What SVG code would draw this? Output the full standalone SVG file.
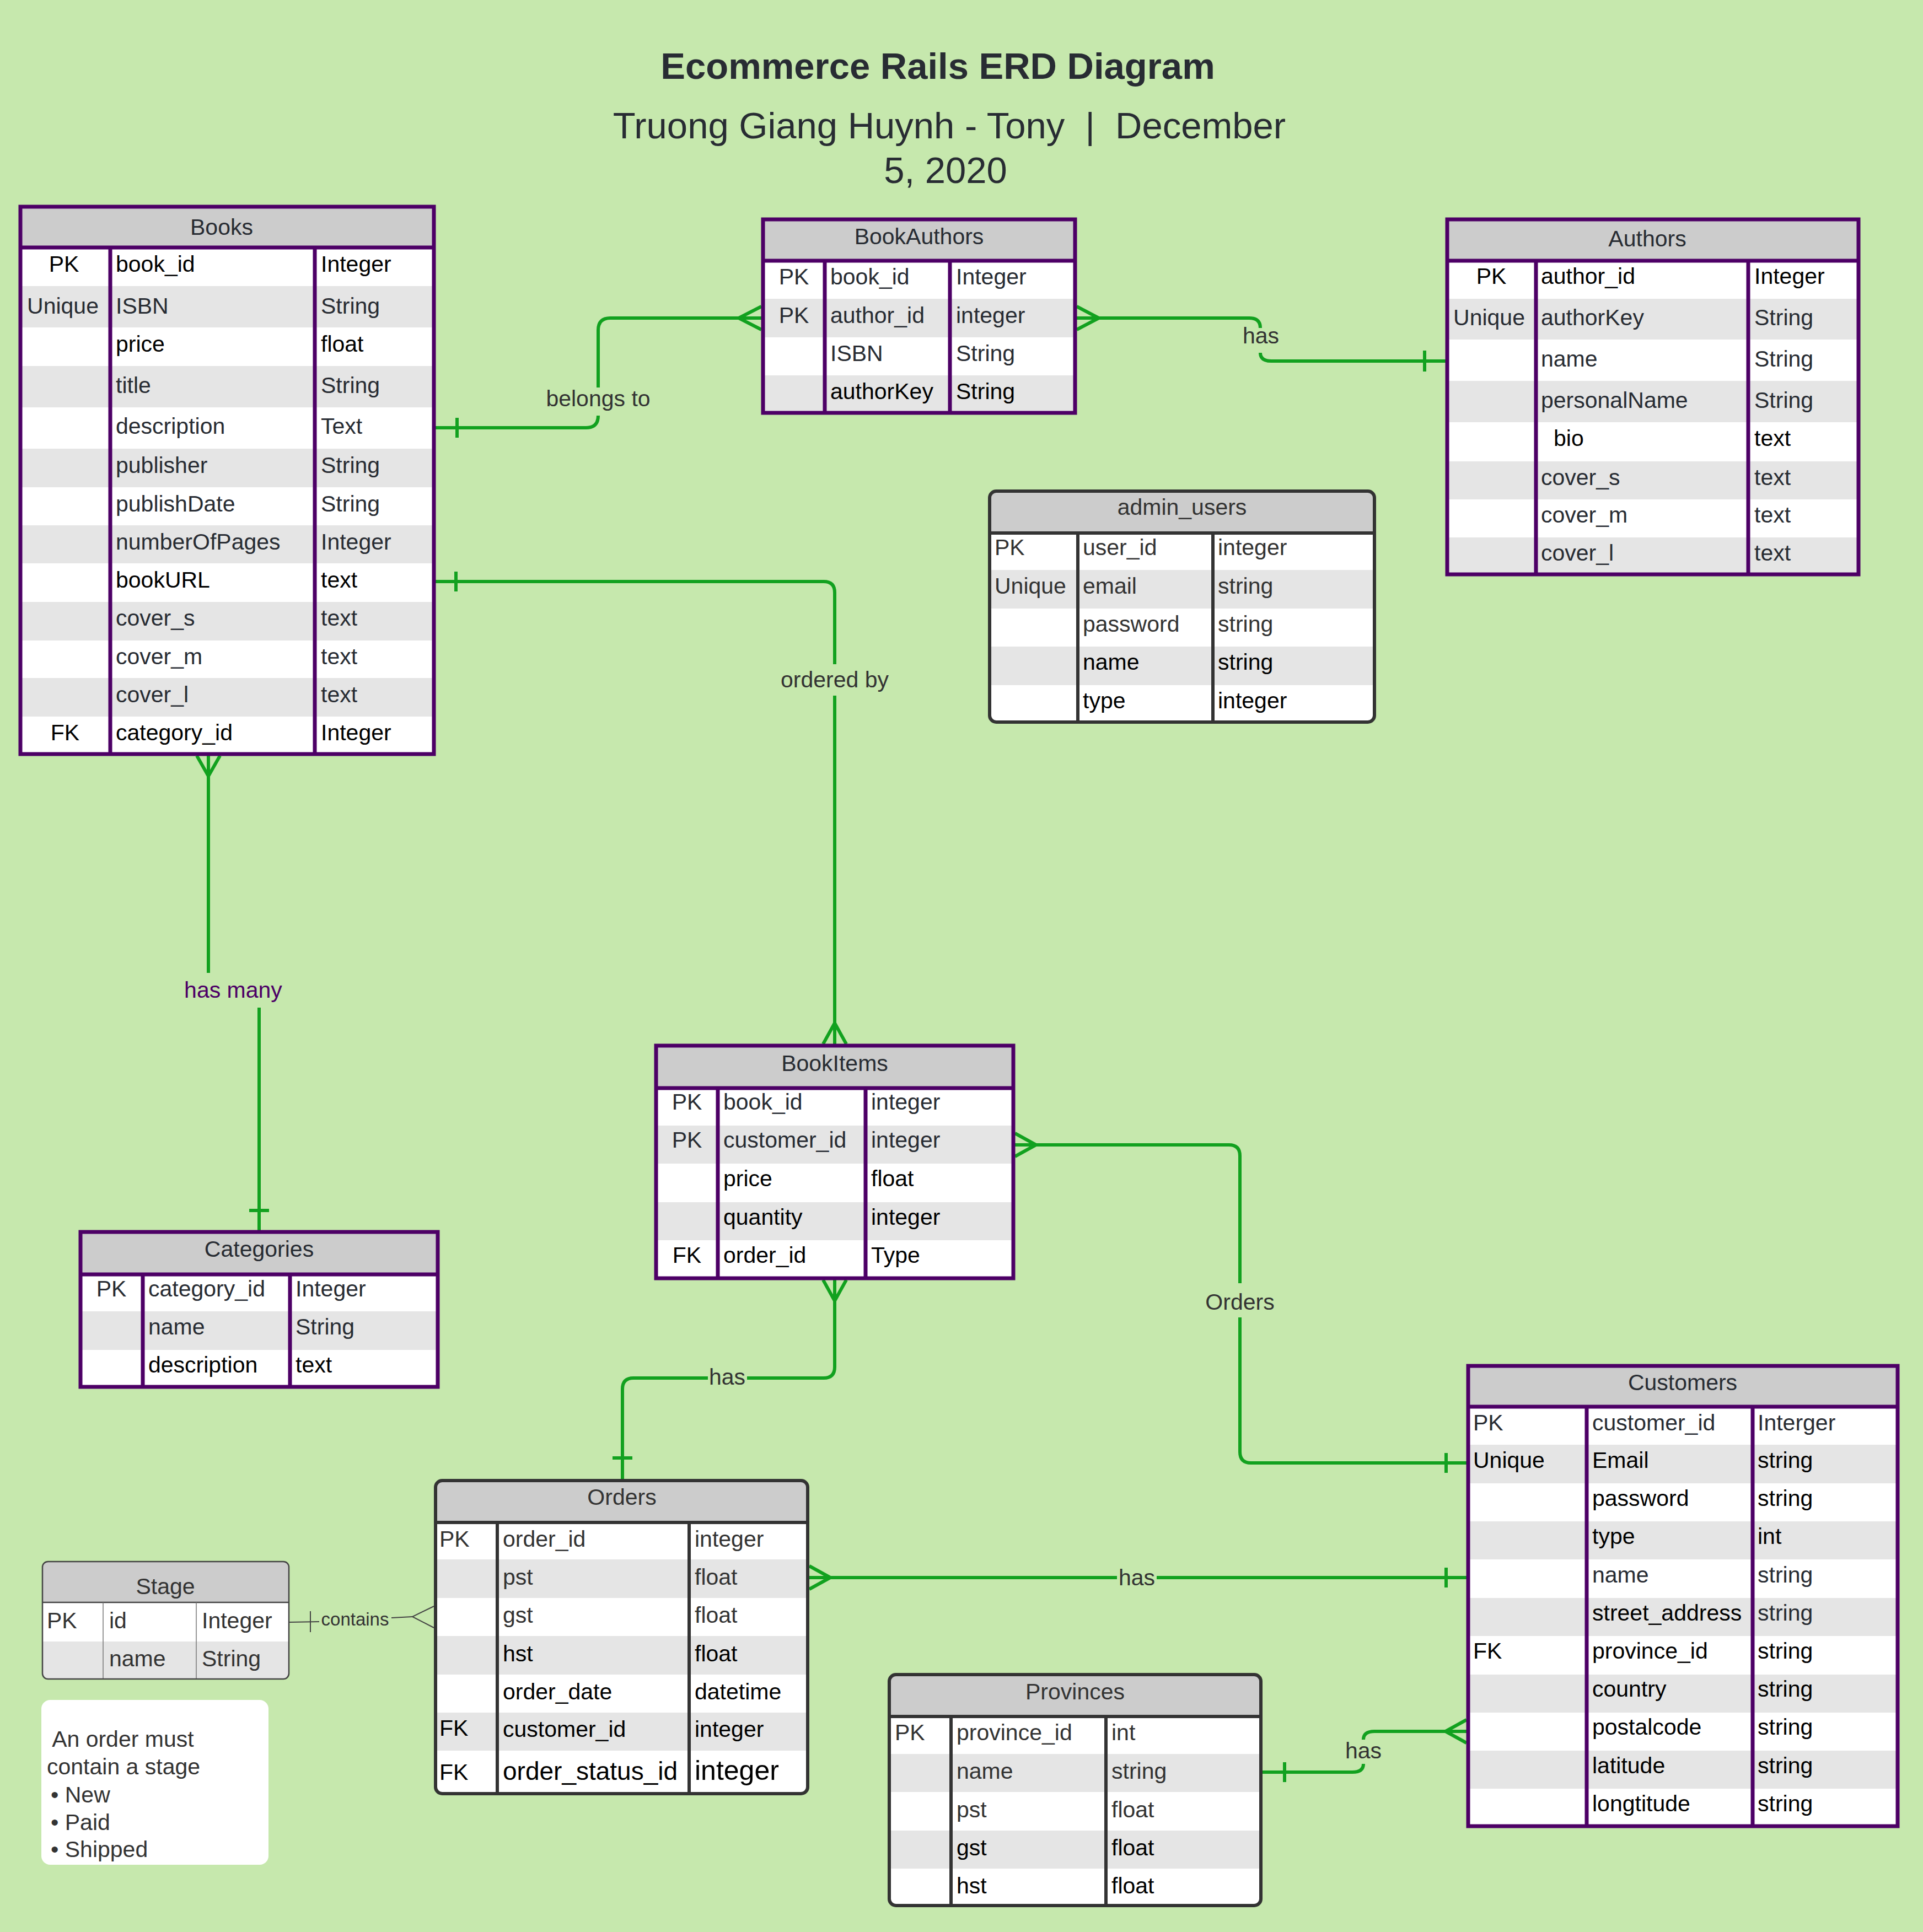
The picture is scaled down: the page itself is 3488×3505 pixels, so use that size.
<svg xmlns="http://www.w3.org/2000/svg" width="3488" height="3505" viewBox="0 0 3488 3505">
<style>
.t{font-family:"Liberation Sans",Arial,Helvetica,sans-serif;font-size:41px;fill:#282c33}
.d{fill:#333}
.k{fill:#000}
.m{text-anchor:middle}
.pb{fill:none;stroke:#4d0066;stroke-width:7}
.db{fill:none;stroke:#333;stroke-width:6}
.hf{fill:#ccc}
.wf{fill:#fff}
.gf{fill:#e5e5e5}
.cn{fill:none;stroke:#12a11f;stroke-width:6}
.lb{font-family:"Liberation Sans",Arial,Helvetica,sans-serif;font-size:41px;fill:#333;text-anchor:middle}
</style>
<defs>
<clipPath id="cpAdmin"><rect x="1795" y="891" width="698" height="419" rx="12"/></clipPath>
<clipPath id="cpOrders"><rect x="790" y="2686" width="675" height="568" rx="12"/></clipPath>
<clipPath id="cpProv"><rect x="1613" y="3038" width="674" height="419" rx="12"/></clipPath>
<clipPath id="cpStage"><rect x="77" y="2833" width="447" height="213" rx="10"/></clipPath>
</defs>
<rect width="3488" height="3505" fill="#c6e8ad"/>

<g id="title">
<text x="1701" y="143" class="t m" style="font-size:67px;font-weight:bold">Ecommerce Rails ERD Diagram</text>
<text x="1722" y="251" class="t m" style="font-size:67px" xml:space="preserve">Truong Giang Huynh - Tony  |  December</text>
<text x="1715" y="332" class="t m" style="font-size:67px">5, 2020</text>
</g>

<g id="connectors">
<!-- belongs to -->
<path class="cn" d="M790,776 H1063 Q1085,776 1085,754"/>
<path class="cn" d="M1085,703 V599 Q1085,577 1107,577 H1381"/>
<path class="cn" d="M829,758 V794"/>
<path class="cn" d="M1340,577 L1381,556 M1340,577 L1381,598"/>
<text class="lb" x="1085" y="737">belongs to</text>
<!-- has BookAuthors-Authors -->
<path class="cn" d="M1953,577 H2266 Q2286,577 2286,595"/>
<path class="cn" d="M2286,640 Q2286,655 2306,655 H2622"/>
<path class="cn" d="M1993,577 L1953,556 M1993,577 L1953,598"/>
<path class="cn" d="M2584,636 V674"/>
<text class="lb" x="2287" y="623">has</text>
<!-- ordered by -->
<path class="cn" d="M790,1055 H1494 Q1514,1055 1514,1075 V1205"/>
<path class="cn" d="M1514,1262 V1894"/>
<path class="cn" d="M827,1037 V1073"/>
<path class="cn" d="M1514,1856 L1493,1894 M1514,1856 L1535,1894"/>
<text class="lb" x="1514" y="1247">ordered by</text>
<!-- has many -->
<path class="cn" d="M378,1371 V1765"/>
<path class="cn" d="M470,1828 V2232"/>
<path class="cn" d="M378,1408 L357,1371 M378,1408 L399,1371"/>
<path class="cn" d="M452,2196 H488"/>
<text class="lb" x="423" y="1810" style="fill:#4d0066">has many</text>
<!-- has BookItems-Orders -->
<path class="cn" d="M1514,2322 V2480 Q1514,2500 1494,2500 H1355"/>
<path class="cn" d="M1284,2500 H1149 Q1129,2500 1129,2520 V2683"/>
<path class="cn" d="M1514,2360 L1493,2322 M1514,2360 L1535,2322"/>
<path class="cn" d="M1111,2645 H1147"/>
<text class="lb" x="1319" y="2512">has</text>
<!-- Orders BookItems-Customers -->
<path class="cn" d="M1841,2077 H2229 Q2249,2077 2249,2097 V2328"/>
<path class="cn" d="M2249,2390 V2634 Q2249,2654 2269,2654 H2660"/>
<path class="cn" d="M1879,2077 L1841,2056 M1879,2077 L1841,2098"/>
<path class="cn" d="M2623,2636 V2672"/>
<text class="lb" x="2249" y="2376">Orders</text>
<!-- has Orders-Customers -->
<path class="cn" d="M1468,2862 H2026"/>
<path class="cn" d="M2098,2862 H2660"/>
<path class="cn" d="M1506,2862 L1468,2841 M1506,2862 L1468,2883"/>
<path class="cn" d="M2623,2844 V2880"/>
<text class="lb" x="2062" y="2876">has</text>
<!-- has Provinces-Customers -->
<path class="cn" d="M2290,3215 H2453 Q2473,3215 2473,3200"/>
<path class="cn" d="M2473,3156 Q2473,3141 2493,3141 H2660"/>
<path class="cn" d="M2330,3197 V3233"/>
<path class="cn" d="M2622,3141 L2660,3120 M2622,3141 L2660,3162"/>
<text class="lb" x="2473" y="3190">has</text>
<!-- contains -->
<path d="M524,2943 L579,2942 M710,2935 L748,2933" fill="none" stroke="#444" stroke-width="2"/>
<path d="M563,2923 V2961" fill="none" stroke="#444" stroke-width="2"/>
<path d="M787,2914 L748,2933 L787,2953" fill="none" stroke="#444" stroke-width="2"/>
<text x="644" y="2949" class="t m d" style="font-size:33px">contains</text>
</g>

<g id="books">
<rect x="37" y="375" width="750" height="993" class="wf"/>
<rect x="37" y="375" width="750" height="74" class="hf"/>
<rect x="37" y="519" width="750" height="75" class="gf"/>
<rect x="37" y="664" width="750" height="75" class="gf"/>
<rect x="37" y="814" width="750" height="70" class="gf"/>
<rect x="37" y="953" width="750" height="69" class="gf"/>
<rect x="37" y="1092" width="750" height="70" class="gf"/>
<rect x="37" y="1230" width="750" height="70" class="gf"/>
<path class="pb" d="M37,449 H787 M200,449 V1368 M571,449 V1368"/>
<rect x="37" y="375" width="750" height="993" class="pb"/>
<text x="402" y="426" class="t m">Books</text>
<text x="116" y="493" class="t m k">PK</text><text x="210" y="493" class="t k">book_id</text><text x="582" y="493" class="t k">Integer</text>
<text x="114" y="569" class="t m">Unique</text><text x="210" y="569" class="t">ISBN</text><text x="582" y="569" class="t">String</text>
<text x="210" y="638" class="t k">price</text><text x="582" y="638" class="t k">float</text>
<text x="210" y="713" class="t">title</text><text x="582" y="713" class="t">String</text>
<text x="210" y="787" class="t">description</text><text x="582" y="787" class="t">Text</text>
<text x="210" y="858" class="t">publisher</text><text x="582" y="858" class="t">String</text>
<text x="210" y="928" class="t">publishDate</text><text x="582" y="928" class="t">String</text>
<text x="210" y="997" class="t">numberOfPages</text><text x="582" y="997" class="t">Integer</text>
<text x="210" y="1066" class="t k">bookURL</text><text x="582" y="1066" class="t k">text</text>
<text x="210" y="1135" class="t">cover_s</text><text x="582" y="1135" class="t">text</text>
<text x="210" y="1205" class="t">cover_m</text><text x="582" y="1205" class="t">text</text>
<text x="210" y="1274" class="t">cover_l</text><text x="582" y="1274" class="t">text</text>
<text x="118" y="1343" class="t m k">FK</text><text x="210" y="1343" class="t k">category_id</text><text x="582" y="1343" class="t k">Integer</text>
</g>

<g id="bookauthors">
<rect x="1384" y="398" width="566" height="351" class="wf"/>
<rect x="1384" y="398" width="566" height="75" class="hf"/>
<rect x="1384" y="542" width="566" height="70" class="gf"/>
<rect x="1384" y="681" width="566" height="68" class="gf"/>
<path class="pb" d="M1384,473 H1950 M1496,473 V749 M1723,473 V749"/>
<rect x="1384" y="398" width="566" height="351" class="pb"/>
<text x="1667" y="443" class="t m">BookAuthors</text>
<text x="1440" y="516" class="t m">PK</text><text x="1506" y="516" class="t">book_id</text><text x="1734" y="516" class="t">Integer</text>
<text x="1440" y="586" class="t m">PK</text><text x="1506" y="586" class="t">author_id</text><text x="1734" y="586" class="t">integer</text>
<text x="1506" y="655" class="t">ISBN</text><text x="1734" y="655" class="t">String</text>
<text x="1506" y="724" class="t k">authorKey</text><text x="1734" y="724" class="t k">String</text>
</g>

<g id="authors">
<rect x="2625" y="398" width="746" height="644" class="wf"/>
<rect x="2625" y="398" width="746" height="75" class="hf"/>
<rect x="2625" y="542" width="746" height="74" class="gf"/>
<rect x="2625" y="691" width="746" height="75" class="gf"/>
<rect x="2625" y="837" width="746" height="69" class="gf"/>
<rect x="2625" y="975" width="746" height="67" class="gf"/>
<path class="pb" d="M2625,473 H3371 M2786,473 V1042 M3171,473 V1042"/>
<rect x="2625" y="398" width="746" height="644" class="pb"/>
<text x="2988" y="447" class="t m">Authors</text>
<text x="2705" y="515" class="t m k">PK</text><text x="2795" y="515" class="t k">author_id</text><text x="3182" y="515" class="t k">Integer</text>
<text x="2701" y="590" class="t m">Unique</text><text x="2795" y="590" class="t">authorKey</text><text x="3182" y="590" class="t">String</text>
<text x="2795" y="665" class="t">name</text><text x="3182" y="665" class="t">String</text>
<text x="2795" y="740" class="t">personalName</text><text x="3182" y="740" class="t">String</text>
<text x="2818" y="809" class="t k">bio</text><text x="3182" y="809" class="t k">text</text>
<text x="2795" y="880" class="t">cover_s</text><text x="3182" y="880" class="t">text</text>
<text x="2795" y="948" class="t">cover_m</text><text x="3182" y="948" class="t">text</text>
<text x="2795" y="1017" class="t">cover_l</text><text x="3182" y="1017" class="t">text</text>
</g>

<g id="admin_users">
<g clip-path="url(#cpAdmin)">
<rect x="1795" y="891" width="698" height="419" class="wf"/>
<rect x="1795" y="891" width="698" height="76" class="hf"/>
<rect x="1795" y="1034" width="698" height="70" class="gf"/>
<rect x="1795" y="1173" width="698" height="70" class="gf"/>
</g>
<path class="db" d="M1795,967 H2493 M1955,967 V1310 M2200,967 V1310"/>
<rect x="1795" y="891" width="698" height="419" rx="12" class="db"/>
<text x="2144" y="934" class="t m d">admin_users</text>
<text x="1804" y="1007" class="t d">PK</text><text x="1964" y="1007" class="t d">user_id</text><text x="2209" y="1007" class="t d">integer</text>
<text x="1804" y="1077" class="t d">Unique</text><text x="1964" y="1077" class="t d">email</text><text x="2209" y="1077" class="t d">string</text>
<text x="1964" y="1146" class="t d">password</text><text x="2209" y="1146" class="t d">string</text>
<text x="1964" y="1215" class="t k">name</text><text x="2209" y="1215" class="t k">string</text>
<text x="1964" y="1285" class="t k">type</text><text x="2209" y="1285" class="t k">integer</text>
</g>

<g id="bookitems">
<rect x="1190" y="1897" width="648" height="422" class="wf"/>
<rect x="1190" y="1897" width="648" height="77" class="hf"/>
<rect x="1190" y="2042" width="648" height="69" class="gf"/>
<rect x="1190" y="2181" width="648" height="69" class="gf"/>
<path class="pb" d="M1190,1974 H1838 M1302,1974 V2319 M1570,1974 V2319"/>
<rect x="1190" y="1897" width="648" height="422" class="pb"/>
<text x="1514" y="1943" class="t m">BookItems</text>
<text x="1246" y="2013" class="t m">PK</text><text x="1312" y="2013" class="t">book_id</text><text x="1580" y="2013" class="t">integer</text>
<text x="1246" y="2082" class="t m">PK</text><text x="1312" y="2082" class="t">customer_id</text><text x="1580" y="2082" class="t">integer</text>
<text x="1312" y="2152" class="t k">price</text><text x="1580" y="2152" class="t k">float</text>
<text x="1312" y="2222" class="t k">quantity</text><text x="1580" y="2222" class="t k">integer</text>
<text x="1246" y="2291" class="t m k">FK</text><text x="1312" y="2291" class="t k">order_id</text><text x="1580" y="2291" class="t k">Type</text>
</g>

<g id="categories">
<rect x="146" y="2235" width="648" height="281" class="wf"/>
<rect x="146" y="2235" width="648" height="77" class="hf"/>
<rect x="146" y="2379" width="648" height="70" class="gf"/>
<path class="pb" d="M146,2312 H794 M259,2312 V2516 M526,2312 V2516"/>
<rect x="146" y="2235" width="648" height="281" class="pb"/>
<text x="470" y="2280" class="t m">Categories</text>
<text x="202" y="2352" class="t m">PK</text><text x="269" y="2352" class="t">category_id</text><text x="536" y="2352" class="t">Integer</text>
<text x="269" y="2421" class="t">name</text><text x="536" y="2421" class="t">String</text>
<text x="269" y="2490" class="t k">description</text><text x="536" y="2490" class="t k">text</text>
</g>

<g id="customers">
<rect x="2663" y="2478" width="779" height="835" class="wf"/>
<rect x="2663" y="2478" width="779" height="74" class="hf"/>
<rect x="2663" y="2621" width="779" height="70" class="gf"/>
<rect x="2663" y="2760" width="779" height="69" class="gf"/>
<rect x="2663" y="2899" width="779" height="69" class="gf"/>
<rect x="2663" y="3038" width="779" height="69" class="gf"/>
<rect x="2663" y="3176" width="779" height="69" class="gf"/>
<path class="pb" d="M2663,2552 H3442 M2878,2552 V3313 M3179,2552 V3313"/>
<rect x="2663" y="2478" width="779" height="835" class="pb"/>
<text x="3052" y="2522" class="t m">Customers</text>
<text x="2672" y="2595" class="t">PK</text><text x="2888" y="2595" class="t">customer_id</text><text x="3188" y="2595" class="t">Interger</text>
<text x="2672" y="2663" class="t k">Unique</text><text x="2888" y="2663" class="t k">Email</text><text x="3188" y="2663" class="t k">string</text>
<text x="2888" y="2732" class="t k">password</text><text x="3188" y="2732" class="t k">string</text>
<text x="2888" y="2801" class="t k">type</text><text x="3188" y="2801" class="t k">int</text>
<text x="2888" y="2871" class="t">name</text><text x="3188" y="2871" class="t">string</text>
<text x="2888" y="2940" class="t k">street_address</text><text x="3188" y="2940" class="t">string</text>
<text x="2672" y="3009" class="t k">FK</text><text x="2888" y="3009" class="t k">province_id</text><text x="3188" y="3009" class="t k">string</text>
<text x="2888" y="3078" class="t k">country</text><text x="3188" y="3078" class="t k">string</text>
<text x="2888" y="3147" class="t k">postalcode</text><text x="3188" y="3147" class="t k">string</text>
<text x="2888" y="3217" class="t k">latitude</text><text x="3188" y="3217" class="t k">string</text>
<text x="2888" y="3286" class="t k">longtitude</text><text x="3188" y="3286" class="t k">string</text>
</g>

<g id="orders">
<g clip-path="url(#cpOrders)">
<rect x="790" y="2686" width="675" height="568" class="wf"/>
<rect x="790" y="2686" width="675" height="76" class="hf"/>
<rect x="790" y="2829" width="675" height="70" class="gf"/>
<rect x="790" y="2968" width="675" height="70" class="gf"/>
<rect x="790" y="3107" width="675" height="69" class="gf"/>
</g>
<path class="db" d="M790,2762 H1465 M902,2762 V3254 M1250,2762 V3254"/>
<rect x="790" y="2686" width="675" height="568" rx="12" class="db"/>
<text x="1128" y="2730" class="t m d">Orders</text>
<text x="797" y="2806" class="t d">PK</text><text x="912" y="2806" class="t d">order_id</text><text x="1260" y="2806" class="t d">integer</text>
<text x="912" y="2875" class="t d">pst</text><text x="1260" y="2875" class="t d">float</text>
<text x="912" y="2944" class="t d">gst</text><text x="1260" y="2944" class="t d">float</text>
<text x="912" y="3014" class="t k">hst</text><text x="1260" y="3014" class="t k">float</text>
<text x="912" y="3083" class="t k">order_date</text><text x="1260" y="3083" class="t k">datetime</text>
<text x="797" y="3149" class="t k">FK</text><text x="912" y="3151" class="t k">customer_id</text><text x="1260" y="3151" class="t k">integer</text>
<text x="797" y="3229" class="t k">FK</text><text x="912" y="3229" class="t k" style="font-size:46px">order_status_id</text><text x="1260" y="3229" class="t k" style="font-size:50px">integer</text>
</g>

<g id="stage">
<g clip-path="url(#cpStage)">
<rect x="77" y="2833" width="447" height="213" class="wf"/>
<rect x="77" y="2833" width="447" height="74" class="hf"/>
<rect x="77" y="2978" width="447" height="68" class="gf"/>
</g>
<path d="M77,2907 H524" fill="none" stroke="#444" stroke-width="2.5"/>
<path d="M187,2907 V3046 M356,2907 V3046" fill="none" stroke="#777" stroke-width="1.5"/>
<rect x="77" y="2833" width="447" height="213" rx="10" fill="none" stroke="#444" stroke-width="2.5"/>
<text x="300" y="2892" class="t m d">Stage</text>
<text x="85" y="2954" class="t d">PK</text><text x="198" y="2954" class="t d">id</text><text x="366" y="2954" class="t d">Integer</text>
<text x="198" y="3023" class="t d">name</text><text x="366" y="3023" class="t d">String</text>
</g>

<g id="note">
<rect x="75" y="3084" width="412" height="299" rx="16" fill="#fff"/>
<text class="t d" xml:space="preserve"><tspan x="85" y="3169"> An order must</tspan><tspan x="85" y="3219">contain a stage</tspan><tspan x="92" y="3270">• New</tspan><tspan x="92" y="3320">• Paid</tspan><tspan x="92" y="3369">• Shipped</tspan></text>
</g>

<g id="provinces">
<g clip-path="url(#cpProv)">
<rect x="1613" y="3038" width="674" height="419" class="wf"/>
<rect x="1613" y="3038" width="674" height="76" class="hf"/>
<rect x="1613" y="3182" width="674" height="69" class="gf"/>
<rect x="1613" y="3321" width="674" height="69" class="gf"/>
</g>
<path class="db" d="M1613,3114 H2287 M1725,3114 V3457 M2006,3114 V3457"/>
<rect x="1613" y="3038" width="674" height="419" rx="12" class="db"/>
<text x="1950" y="3083" class="t m d">Provinces</text>
<text x="1623" y="3157" class="t d">PK</text><text x="1735" y="3157" class="t d">province_id</text><text x="2016" y="3157" class="t d">int</text>
<text x="1735" y="3227" class="t d">name</text><text x="2016" y="3227" class="t d">string</text>
<text x="1735" y="3297" class="t d">pst</text><text x="2016" y="3297" class="t d">float</text>
<text x="1735" y="3366" class="t k">gst</text><text x="2016" y="3366" class="t k">float</text>
<text x="1735" y="3435" class="t k">hst</text><text x="2016" y="3435" class="t k">float</text>
</g>
</svg>
